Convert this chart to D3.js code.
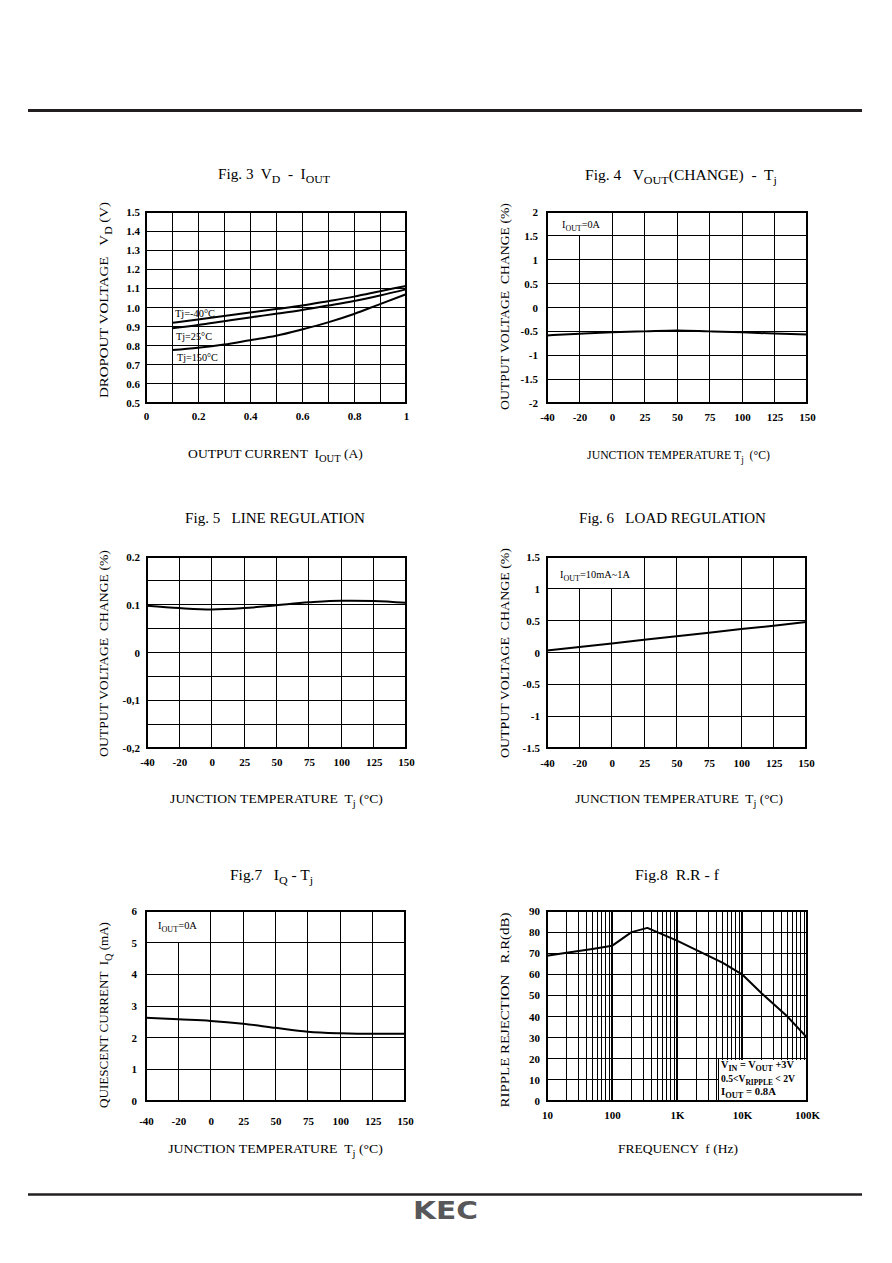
<!DOCTYPE html>
<html><head><meta charset="utf-8">
<script src="https://cdn.jsdelivr.net/npm/d3@7"></script>
<style>
html,body{margin:0;padding:0;background:#fff;}
svg{display:block;}
text{white-space:pre;}
</style></head><body>
<svg id="c" width="892" height="1263"></svg>
<script>
// ================= DATA =================
const tempTicks = [-40, -20, 0, 25, 50, 75, 100, 125, 150];
const tempTickLabels = ["-40", "-20", "0", "25", "50", "75", "100", "125", "150"];

// Fig.3  VD - IOUT
const f3Current = [0.1, 0.2, 0.3, 0.4, 0.5, 0.6, 0.7, 0.8, 0.9, 1.0];
const f3VdTjM40 = [0.920, 0.937, 0.955, 0.974, 0.992, 1.010, 1.033, 1.057, 1.085, 1.113];
const f3VdTj25  = [0.891, 0.908, 0.928, 0.948, 0.967, 0.987, 1.010, 1.034, 1.063, 1.095];
const f3VdTj150 = [0.777, 0.789, 0.806, 0.829, 0.852, 0.885, 0.922, 0.966, 1.018, 1.069];
const f3XTicks = [0, 0.2, 0.4, 0.6, 0.8, 1];
const f3XTickLabels = ["0", "0.2", "0.4", "0.6", "0.8", "1"];
const f3XGrid = [0, 0.1, 0.2, 0.3, 0.4, 0.5, 0.6, 0.7, 0.8, 0.9, 1];
const f3YTicks = [0.5, 0.6, 0.7, 0.8, 0.9, 1.0, 1.1, 1.2, 1.3, 1.4, 1.5];
const f3YTickLabels = ["0.5", "0.6", "0.7", "0.8", "0.9", "1.0", "1.1", "1.2", "1.3", "1.4", "1.5"];

// Fig.4  VOUT(CHANGE) - Tj
const f4Change = [-0.585, -0.55, -0.52, -0.50, -0.48, -0.50, -0.52, -0.545, -0.565];
const f4YTicks = [-2, -1.5, -1, -0.5, 0, 0.5, 1, 1.5, 2];
const f4YTickLabels = ["-2", "-1.5", "-1", "-0.5", "0", "0.5", "1", "1.5", "2"];

// Fig.5  LINE REGULATION
const f5Change = [0.098, 0.093, 0.090, 0.093, 0.099, 0.105, 0.1085, 0.108, 0.104];
const f5YTicks = [-0.2, -0.1, 0, 0.1, 0.2];
const f5YTickLabels = ["-0,2", "-0,1", "0", "0.1", "0.2"];
const f5YGrid = [-0.2, -0.15, -0.1, -0.05, 0, 0.05, 0.1, 0.15, 0.2];

// Fig.6  LOAD REGULATION
const f6Change = [0.03, 0.086, 0.14, 0.20, 0.255, 0.31, 0.37, 0.42, 0.48];
const f6YTicks = [-1.5, -1, -0.5, 0, 0.5, 1, 1.5];
const f6YTickLabels = ["-1.5", "-1", "-0.5", "0", "0.5", "1", "1.5"];

// Fig.7  IQ - Tj
const f7Iq = [2.63, 2.58, 2.53, 2.44, 2.31, 2.19, 2.14, 2.12, 2.12];
const f7YTicks = [0, 1, 2, 3, 4, 5, 6];
const f7YTickLabels = ["0", "1", "2", "3", "4", "5", "6"];

// Fig.8  R.R - f
const f8Freq = [10, 20, 50, 100, 200, 350, 1000, 2000, 5000, 10000, 20000, 50000, 100000];
const f8RR   = [68.8, 70.2, 72, 73.5, 80, 82, 76, 71.5, 65.5, 60, 51, 40, 30];
const f8XTicks = [10, 100, 1000, 10000, 100000];
const f8XTickLabels = ["10", "100", "1K", "10K", "100K"];
const f8YTicks = [0, 10, 20, 30, 40, 50, 60, 70, 80, 90];
const f8YTickLabels = ["0", "10", "20", "30", "40", "50", "60", "70", "80", "90"];

// ================= DRAWING =================
const SERIF = '"Liberation Serif","Times New Roman",serif';
const svg = d3.select('#c');

// page rules
svg.append('line').attr('x1', 28).attr('x2', 862).attr('y1', 110.5).attr('y2', 110.5)
  .attr('stroke', '#231f20').attr('stroke-width', 3);
svg.append('line').attr('x1', 28).attr('x2', 862).attr('y1', 1194.5).attr('y2', 1194.5)
  .attr('stroke', '#231f20').attr('stroke-width', 2.6);
{
  const k = svg.append('text').attr('x', 0).attr('y', 0).text('KEC')
    .attr('font-family', '"DejaVu Sans",sans-serif').attr('font-weight', 'bold')
    .attr('font-size', 24.5).attr('fill', '#58585a');
  const w = k.node().getComputedTextLength();
  k.attr('transform', `translate(413,1219) scale(${65 / w},1)`);
}

// rich text: parts prefixed with "_" are subscripts
function rich(t, parts, size) {
  let shifted = false;
  parts.forEach(p => {
    const sub = p.startsWith('_');
    const s = t.append('tspan').text(sub ? p.slice(1) : p);
    if (sub) {
      s.attr('font-size', size * 0.78);
      if (!shifted) { s.attr('dy', size * 0.28); shifted = true; }
    } else if (shifted) {
      s.attr('dy', -size * 0.28); shifted = false;
    }
  });
  return t;
}

// text fitted to a measured length by a horizontal scale (no glyph overlap)
function label(g, o) {
  const t = g.append('text')
    .attr('x', 0).attr('y', 0)
    .attr('font-family', SERIF).attr('font-size', o.size).attr('fill', '#000')
    .attr('font-weight', o.bold ? 'bold' : 'normal')
    .attr('text-anchor', o.anchor || 'middle');
  rich(t, o.parts, o.size);
  let sx = 1;
  if (o.len) {
    const w = t.node().getComputedTextLength();
    if (w > 0) sx = o.len / w;
  }
  t.attr('transform', `translate(${o.x},${o.y})${o.rotate ? ' rotate(-90)' : ''} scale(${sx},1)`);
  return t;
}

function panel(o) {
  const g = svg.append('g');
  const x = o.x, y = o.y;
  const xr = x.range(), yr = y.range();
  const L = xr[0], R = xr[xr.length - 1], B = yr[0], T = yr[yr.length - 1];

  const gg = g.append('g').attr('shape-rendering', 'crispEdges');
  gg.selectAll('line.v').data(o.xGrid).join('line').attr('class', 'v')
    .attr('x1', d => x(d)).attr('x2', d => x(d)).attr('y1', B).attr('y2', T)
    .attr('stroke', '#000').attr('stroke-width', d => (o.xThick && o.xThick.includes(d)) ? 2 : 1);
  gg.selectAll('line.h').data(o.yGrid).join('line').attr('class', 'h')
    .attr('y1', d => y(d)).attr('y2', d => y(d)).attr('x1', L).attr('x2', R)
    .attr('stroke', '#000').attr('stroke-width', 1);

  if (o.box) {
    const bx0 = x(o.box.x0), bx1 = x(o.box.x1), by0 = y(o.box.y0), by1 = y(o.box.y1);
    const rx = Math.min(bx0, bx1), ry = Math.min(by0, by1);
    const rw = Math.abs(bx1 - bx0), rh = Math.abs(by1 - by0);
    gg.append('rect').attr('x', rx + 1).attr('y', ry + 1).attr('width', rw - 2).attr('height', rh - 2)
      .attr('fill', '#fff');
    gg.append('rect').attr('x', rx).attr('y', ry).attr('width', rw).attr('height', rh)
      .attr('fill', 'none').attr('stroke', '#000').attr('stroke-width', 1);
  }
  gg.append('rect').attr('x', L).attr('y', T).attr('width', R - L).attr('height', B - T)
    .attr('fill', 'none').attr('stroke', '#000').attr('stroke-width', 1.5);

  // curves
  o.series.forEach(s => {
    const line = d3.line().x(d => x(d[0])).y(d => y(d[1]))
      .curve(s.smooth ? d3.curveMonotoneX : d3.curveLinear);
    g.append('path').datum(d3.zip(s.xs, s.ys)).attr('d', line)
      .attr('fill', 'none').attr('stroke', '#000').attr('stroke-width', 2)
      .attr('stroke-linejoin', 'round');
  });

  // axes
  const ax = g.append('g').attr('transform', `translate(0,${B})`)
    .call(d3.axisBottom(x).tickValues(o.xTicks)
      .tickFormat(d => o.xLabels[o.xTicks.indexOf(d)]).tickSize(0).tickPadding(o.xPad));
  ax.select('.domain').remove();
  ax.selectAll('text').attr('font-family', SERIF).attr('font-size', 11)
    .attr('font-weight', 'bold').attr('fill', '#000');

  const ay = g.append('g').attr('transform', `translate(${L},0)`)
    .call(d3.axisLeft(y).tickValues(o.yTicks)
      .tickFormat(d => o.yLabels[o.yTicks.indexOf(d)]).tickSize(0).tickPadding(o.yPad));
  ay.select('.domain').remove();
  ay.selectAll('text').attr('font-family', SERIF).attr('font-size', 11)
    .attr('font-weight', 'bold').attr('fill', '#000');

  // titles
  label(g, Object.assign({ size: 14 }, o.title));
  label(g, Object.assign({ size: 13 }, o.xTitle));
  label(g, Object.assign({ size: 13.5, rotate: true }, o.yTitle));
  (o.notes || []).forEach(n => label(g, Object.assign({ anchor: 'start' }, n)));
}

function tempScale(L, R) {
  return d3.scaleLinear().domain(tempTicks)
    .range(tempTicks.map((_, i) => L + i * (R - L) / (tempTicks.length - 1)));
}

// ---- Fig 3 ----
panel({
  x: d3.scaleLinear().domain([0, 1]).range([146, 406]),
  y: d3.scaleLinear().domain([0.5, 1.5]).range([403, 212]),
  xGrid: f3XGrid, yGrid: f3YTicks,
  xTicks: f3XTicks, xLabels: f3XTickLabels, xPad: 9,
  yTicks: f3YTicks, yLabels: f3YTickLabels, yPad: 6,
  series: [
    { xs: f3Current, ys: f3VdTjM40, smooth: true },
    { xs: f3Current, ys: f3VdTj25, smooth: true },
    { xs: f3Current, ys: f3VdTj150, smooth: true }
  ],
  notes: [
    { x: 175, y: 317, size: 10, parts: ["Tj=-40°C"], len: 40 },
    { x: 176, y: 340, size: 10, parts: ["Tj=25°C"], len: 36 },
    { x: 177, y: 361, size: 10, parts: ["Tj=150°C"], len: 41 }
  ],
  title: { x: 274, y: 179, parts: ["Fig. 3  V", "_D", "  -  I", "_OUT"], len: 112 },
  xTitle: { x: 275.5, y: 458, parts: ["OUTPUT CURRENT  I", "_OUT", " (A)"], len: 175 },
  yTitle: { x: 108, y: 300, parts: ["DROPOUT VOLTAGE   V", "_D", " (V)"], len: 196 }
});

// ---- Fig 4 ----
panel({
  x: tempScale(547, 807),
  y: d3.scaleLinear().domain([-2, 2]).range([403, 212]),
  xGrid: tempTicks, yGrid: f4YTicks,
  xTicks: tempTicks, xLabels: tempTickLabels, xPad: 10,
  yTicks: f4YTicks, yLabels: f4YTickLabels, yPad: 9,
  box: { x0: -40, x1: 0, y0: 2, y1: 1.5 },
  series: [{ xs: tempTicks, ys: f4Change, smooth: true }],
  notes: [{ x: 562, y: 228, size: 10, parts: ["I", "_OUT", "=0A"], len: 38 }],
  title: { x: 681, y: 180, parts: ["Fig. 4   V", "_OUT", "(CHANGE)  -  T", "_j"], len: 192 },
  xTitle: { x: 678.5, y: 459, parts: ["JUNCTION TEMPERATURE T", "_j", "  (°C)"], len: 183 },
  yTitle: { x: 509, y: 306.5, parts: ["OUTPUT VOLTAGE  CHANGE (%)"], len: 207 }
});

// ---- Fig 5 ----
panel({
  x: tempScale(147, 406),
  y: d3.scaleLinear().domain([-0.2, 0.2]).range([748, 557]),
  xGrid: tempTicks, yGrid: f5YGrid,
  xTicks: tempTicks, xLabels: tempTickLabels, xPad: 10,
  yTicks: f5YTicks, yLabels: f5YTickLabels, yPad: 7,
  series: [{ xs: tempTicks, ys: f5Change, smooth: true }],
  title: { x: 275, y: 523, parts: ["Fig. 5   LINE REGULATION"], len: 180 },
  xTitle: { x: 276.5, y: 803, parts: ["JUNCTION TEMPERATURE  T", "_j", " (°C)"], len: 213 },
  yTitle: { x: 108, y: 653.5, parts: ["OUTPUT VOLTAGE  CHANGE (%)"], len: 207 }
});

// ---- Fig 6 ----
panel({
  x: tempScale(547, 806),
  y: d3.scaleLinear().domain([-1.5, 1.5]).range([748, 557]),
  xGrid: tempTicks, yGrid: f6YTicks,
  xTicks: tempTicks, xLabels: tempTickLabels, xPad: 11.5,
  yTicks: f6YTicks, yLabels: f6YTickLabels, yPad: 7,
  box: { x0: -40, x1: 25, y0: 1.5, y1: 1 },
  series: [{ xs: tempTicks, ys: f6Change, smooth: false }],
  notes: [{ x: 560, y: 578, size: 10, parts: ["I", "_OUT", "=10mA~1A"], len: 70 }],
  title: { x: 672.5, y: 523, parts: ["Fig. 6   LOAD REGULATION"], len: 187 },
  xTitle: { x: 679, y: 803, parts: ["JUNCTION TEMPERATURE  T", "_j", " (°C)"], len: 208 },
  yTitle: { x: 509, y: 653, parts: ["OUTPUT VOLTAGE  CHANGE (%)"], len: 210 }
});

// ---- Fig 7 ----
panel({
  x: tempScale(146, 405),
  y: d3.scaleLinear().domain([0, 6]).range([1101, 911]),
  xGrid: tempTicks, yGrid: f7YTicks,
  xTicks: tempTicks, xLabels: tempTickLabels, xPad: 16,
  yTicks: f7YTicks, yLabels: f7YTickLabels, yPad: 9,
  box: { x0: -40, x1: 0, y0: 6, y1: 5 },
  series: [{ xs: tempTicks, ys: f7Iq, smooth: true }],
  notes: [{ x: 158, y: 929, size: 10, parts: ["I", "_OUT", "=0A"], len: 39 }],
  title: { x: 271.5, y: 880, parts: ["Fig.7   I", "_Q", " - T", "_j"], len: 83 },
  xTitle: { x: 275.5, y: 1153, parts: ["JUNCTION TEMPERATURE  T", "_j", " (°C)"], len: 215 },
  yTitle: { x: 108, y: 1015, parts: ["QUIESCENT CURRENT  I", "_Q", " (mA)"], len: 186 }
});

// ---- Fig 8 ----
const f8Grid = [];
[10, 100, 1000, 10000].forEach(dec => { for (let k = 1; k < 10; k++) f8Grid.push(dec * k); });
f8Grid.push(100000);
panel({
  x: d3.scaleLog().domain([10, 100000]).range([547, 807]),
  y: d3.scaleLinear().domain([0, 90]).range([1101, 911]),
  xGrid: f8Grid, xThick: [100, 1000, 10000, 100000], yGrid: f8YTicks,
  xTicks: f8XTicks, xLabels: f8XTickLabels, xPad: 10,
  yTicks: f8YTicks, yLabels: f8YTickLabels, yPad: 7,
  box: { x0: 4300, x1: 100000, y0: 20, y1: 0 },
  series: [{ xs: f8Freq, ys: f8RR, smooth: false }],
  notes: [
    { x: 721, y: 1068, size: 10, bold: true, parts: ["V", "_IN", " = V", "_OUT", " +3V"], len: 73 },
    { x: 721, y: 1082, size: 10, bold: true, parts: ["0.5<V", "_RIPPLE", " < 2V"], len: 74 },
    { x: 721, y: 1095, size: 10, bold: true, parts: ["I", "_OUT", " = 0.8A"], len: 55 }
  ],
  title: { x: 677, y: 880, parts: ["Fig.8  R.R - f"], len: 84 },
  xTitle: { x: 678, y: 1153, parts: ["FREQUENCY  f (Hz)"], len: 120 },
  yTitle: { x: 509, y: 1010, parts: ["RIPPLE REJECTION   R.R(dB)"], len: 195 }
});
</script>
</body></html>
